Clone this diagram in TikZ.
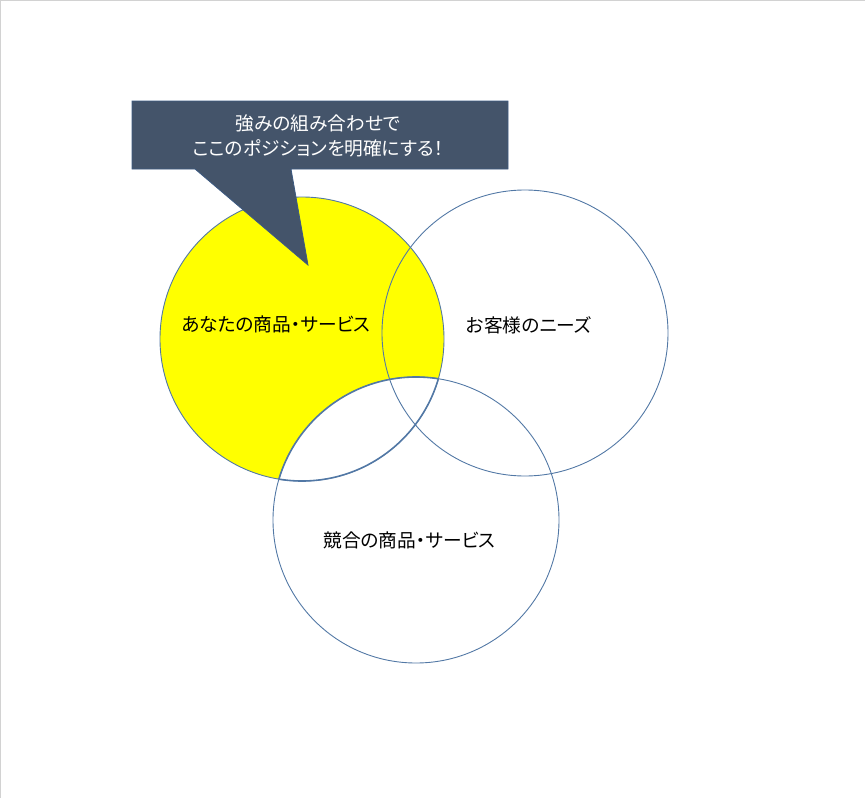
\documentclass[tikz,border=0pt]{standalone}
\usepackage{fontspec}
\newfontfamily\jp[RawFeature=+palt]{Noto Sans CJK JP}
\definecolor{lineblue}{RGB}{82,120,165}
\definecolor{slate}{RGB}{68,84,106}
\definecolor{slateedge}{RGB}{60,90,130}
\definecolor{framegray}{RGB}{210,210,210}
\definecolor{brightyellow}{RGB}{255,255,0}
\tikzset{
  ring/.style={draw=lineblue, line width=0.9pt},
  lensedge/.style={draw=lineblue, line width=1.6pt},
  lbl/.style={font=\jp\fontsize{18.7}{22}\selectfont, text=black, inner sep=0pt},
  calltext/.style={font=\jp\fontsize{18.7}{25}\selectfont, text=white, align=center, inner sep=0pt}
}
\begin{document}
\begin{tikzpicture}[x=1pt,y=-1pt]
\useasboundingbox (0,0) rectangle (865,798);
\draw[framegray, line width=1pt] (0.5,798) -- (0.5,0.5) -- (865,0.5);
% centres
\coordinate (cA) at (302,339);
\coordinate (cB) at (525,333);
\coordinate (cC) at (416,520);
% your products circle
\fill[brightyellow] (cA) circle[radius=142];
\draw[ring] (cA) circle[radius=142];
% competitor circle outline
\draw[ring] (cC) circle[radius=143];
% lens A and C, white
\begin{scope}
  \clip (cA) circle[radius=142];
  \fill[white] (cC) circle[radius=143];
  \draw[lensedge] (cC) circle[radius=143];
\end{scope}
\begin{scope}
  \clip (cC) circle[radius=143];
  \draw[lensedge] (cA) circle[radius=142];
\end{scope}
% customers circle
\draw[ring] (cB) circle[radius=143];
% labels
\node[lbl] (you) at (276,324) {あなたの商品・サービス};
\node[lbl] (cust) at (529,325) {お客様のニーズ};
\node[lbl] (comp) at (409.5,540) {競合の商品・サービス};
% callout
\draw[fill=slate, draw=slateedge, line width=0.8pt]
  (132,101) -- (508,101) -- (508,169) -- (291,169) -- (308,265) -- (195,169) -- (132,169) -- cycle;
\node[calltext] (msg) at (318,136) {強みの組み合わせで\\ここのポジションを明確にする！};
\end{tikzpicture}
\end{document}
